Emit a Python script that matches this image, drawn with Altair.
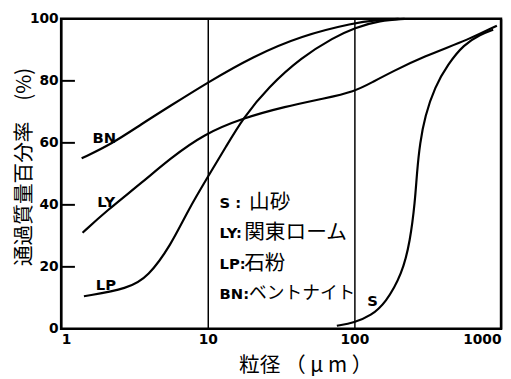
import altair as alt
import pandas as pd

# ---- data ----
bn_x = [1.38, 2.22, 3.52, 5.5, 10, 20.2, 43.6, 100, 140, 200]
bn_y = [55, 59.7, 66, 71.8, 79.5, 87.8, 94.6, 98.7, 99.6, 100]

ly_x = [1.4, 2.03, 3.52, 5.56, 9.4, 17.4, 33.7, 62, 100, 134, 182, 288, 620, 937]
ly_y = [31, 38, 47, 55, 62.8, 68, 71.7, 74.3, 76.5, 79.7, 83, 87.6, 93.6, 97.8]

lp_x = [1.43, 2.88, 3.92, 5.6, 7.25, 10, 13.4, 17.4, 25.9, 43.6, 72.4, 100, 150, 220]
lp_y = [10.5, 13, 16.8, 27, 37.8, 49, 59, 68, 78, 87.6, 94, 97.1, 99.5, 100]

s_x = [75.9, 100, 130, 163, 212, 240, 259, 267, 280, 303, 353, 435, 556, 726, 884]
s_y = [1, 2, 4.3, 8.3, 17.8, 28.3, 41, 50.5, 60, 68.6, 78, 85.4, 91.7, 95, 96.5]

series_names = ["BN", "LY", "LP", "S"]

label_text = ["BN", "LY", "LP", "S"]
label_x = [1.97, 2.03, 2.02, 133]
label_y = [61.6, 41, 14, 8.9]

legend_keys = ["S  :", "LY:", "LP:", "BN:"]
legend_names = ["山砂", "関東ローム", "石粉", "ベントナイト"]

x_ticks = [1, 10, 100, 1000]
y_ticks = [0, 20, 40, 60, 80, 100]
inner_ticks = [20, 40, 60, 80]

# ---- tables ----
frames = []
for name, xs, ys in zip(series_names, [bn_x, ly_x, lp_x, s_x], [bn_y, ly_y, lp_y, s_y]):
    frames.append(pd.DataFrame({"size": xs, "pct": ys, "soil": name}))
curves = pd.concat(frames, ignore_index=True)
labels = pd.DataFrame({"size": label_x, "pct": label_y, "t": label_text})
ticks_df = pd.DataFrame({"pct": inner_ticks})

x_scale = alt.Scale(type="log", domain=[1, 1000])
y_scale = alt.Scale(domain=[0, 100])

lines = alt.Chart(curves).mark_line(
    color="black", strokeWidth=2.2, interpolate="basis"
).encode(
    x=alt.X("size:Q", scale=x_scale, axis=alt.Axis(
        values=x_ticks, format="d", title="粒径 （ μ m ）",
        grid=True, gridColor="black", gridWidth=1.5, gridOpacity=1,
        ticks=False, domain=False,
        labelFont="DejaVu Sans", labelFontWeight="bold", labelFontSize=14,
        labelColor="black", labelPadding=4,
        labelAlign=alt.expr("datum.value == 1 ? 'left' : (datum.value == 1000 ? 'right' : 'center')"),
        labelFlush=False,
        titleFont="Noto Sans CJK JP", titleFontSize=21, titleFontWeight="normal",
        titleColor="black", titleX=248, titleY=37, titleAlign="center",
        titleBaseline="middle",
    )),
    y=alt.Y("pct:Q", scale=y_scale, axis=alt.Axis(
        values=y_ticks, title="通過質量百分率　(%)",
        grid=False, ticks=False, domain=False,
        labelFont="DejaVu Sans", labelFontWeight="bold", labelFontSize=14,
        labelColor="black", labelPadding=3, labelFlush=False,
        titleFont="Noto Sans CJK JP", titleFontSize=21, titleFontWeight="normal",
        titleColor="black", titleX=-37, titleY=150, titleAlign="center",
        titleBaseline="middle", titleAngle=-90,
    )),
    detail="soil:N",
)

tick_marks = alt.Chart(ticks_df).mark_rule(color="black", strokeWidth=2).encode(
    y=alt.Y("pct:Q", scale=y_scale),
    x=alt.value(0), x2=alt.value(14),
)

curve_labels = alt.Chart(labels).mark_text(
    font="DejaVu Sans", fontWeight="bold", fontSize=15, color="black"
).encode(
    x=alt.X("size:Q", scale=x_scale),
    y=alt.Y("pct:Q", scale=y_scale),
    text="t:N",
)

layers = [lines, tick_marks, curve_labels]
cjk_offsets = [30, 25, 25, 30]
cjk_sizes = [21, 21, 21, 18]
for i, (k, n) in enumerate(zip(legend_keys, legend_names)):
    yy = 187 + 31 * i
    layers.append(
        alt.Chart(pd.DataFrame({"t": [k]})).mark_text(
            font="DejaVu Sans", fontWeight="bold", fontSize=15, color="black",
            align="left", baseline="middle"
        ).encode(text="t:N", x=alt.value(161), y=alt.value(yy))
    )
    layers.append(
        alt.Chart(pd.DataFrame({"t": [n]})).mark_text(
            font="Noto Sans CJK JP", fontSize=cjk_sizes[i], color="black",
            align="left", baseline="middle"
        ).encode(text="t:N", x=alt.value(161 + cjk_offsets[i]), y=alt.value(yy))
    )

chart = alt.layer(*layers).properties(
    width=447, height=315,
    autosize=alt.AutoSizeParams(type="none"),
    padding={"left": 54, "top": 8, "right": 2, "bottom": 52},
    background="white",
).configure_view(stroke="black", strokeWidth=2.5)

chart.save("out.html", embed_options={"renderer": "svg", "actions": False})
